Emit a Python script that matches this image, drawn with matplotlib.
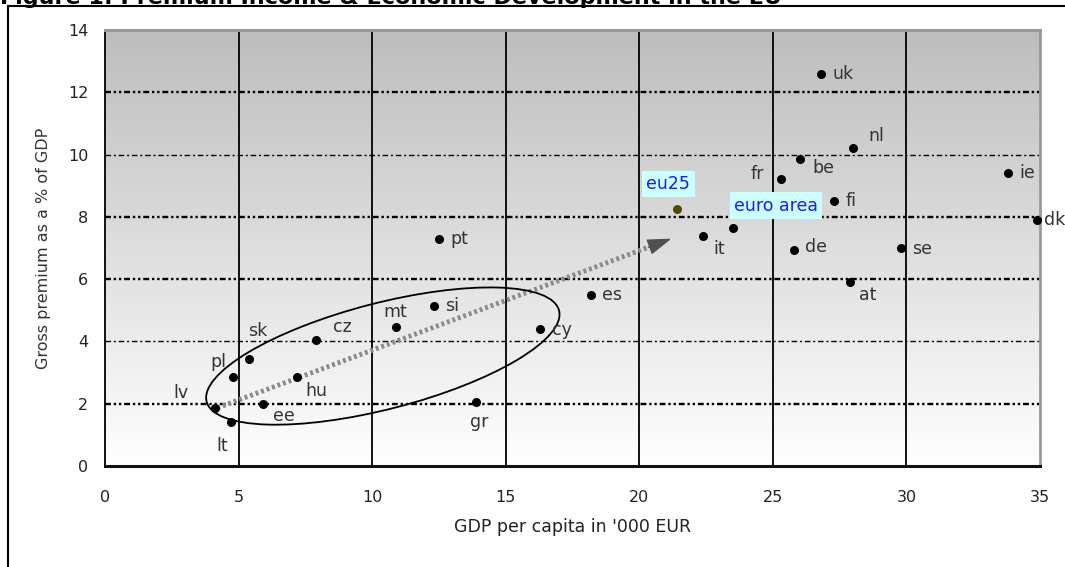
import numpy as np
import matplotlib
matplotlib.use("Agg")
import matplotlib.pyplot as plt
from matplotlib.patches import Ellipse
from matplotlib.transforms import ScaledTranslation
from matplotlib.lines import Line2D

# ---- data ----
countries = ["uk", "nl", "be", "fr", "fi", "ie", "dk", "it", "de", "se", "at", "es",
             "pt", "si", "mt", "cz", "sk", "pl", "hu", "ee", "lv", "lt", "gr", "cy"]
gdp_pc = [26.8, 28.0, 26.0, 25.3, 27.3, 33.8, 34.9, 22.4, 25.8, 29.8, 27.9, 18.2,
          12.5, 12.3, 10.9, 7.9, 5.4, 4.8, 7.2, 5.9, 4.1, 4.7, 13.9, 16.3]
premium = [12.6, 10.2, 9.85, 9.2, 8.5, 9.4, 7.9, 7.4, 6.95, 7.0, 5.9, 5.5,
           7.3, 5.15, 4.45, 4.05, 3.45, 2.85, 2.85, 2.0, 1.85, 1.4, 2.05, 4.4]
# label offsets (points) and alignment
label_off = {
    "uk": (8, 0, "left"), "nl": (11, 9, "left"), "be": (9, -6, "left"),
    "fr": (-12, 4, "right"), "fi": (8, 0, "left"), "ie": (8, 0, "left"),
    "dk": (5, 0, "left"), "it": (7, -10, "left"), "de": (8, 2, "left"),
    "se": (8, -1, "left"), "at": (6, -9, "left"), "es": (8, 0, "left"),
    "pt": (8, 0, "left"), "si": (8, 0, "left"), "mt": (-1, 11, "center"),
    "cz": (19, 9, "center"), "sk": (6, 20, "center"), "pl": (-11, 11, "center"),
    "lv": (-24, 11, "center"), "hu": (14, -10, "center"), "ee": (15, -9, "center"),
    "lt": (-6, -17, "center"), "gr": (2, -14, "center"), "cy": (8, -1, "left"),
}
agg_names = ["eu25", "euro area"]
agg_gdp = [21.4, 23.5]
agg_premium = [8.25, 7.65]
agg_off = [(-6, 18), (31, 16)]
agg_colors = ["#4d4d00", "black"]

xticks = [0, 5, 10, 15, 20, 25, 30, 35]
yticks = [0, 2, 4, 6, 8, 10, 12, 14]

plt.rcParams['font.family'] = ['DejaVu Sans']

fig = plt.figure(figsize=(10.65, 5.67), dpi=100)
ax = fig.add_axes([105/1065, 1-466/567, (1040-105)/1065, (466-30)/567])
ax.set_xlim(0, 35)
ax.set_ylim(0, 14)

# gradient background
grad = np.linspace(0, 1, 256).reshape(-1, 1)
cmap = matplotlib.colors.LinearSegmentedColormap.from_list("g", ["#ffffff", "#bdbdbd"])
ax.imshow(grad, extent=[0, 35, 0, 14], origin="lower", aspect="auto", cmap=cmap,
          zorder=0, interpolation="bicubic")

# grid lines
for xv in xticks[1:-1]:
    ax.axvline(xv, color="black", lw=1.3, zorder=1)
for yv in yticks[1:-1]:
    thin = yv in (4, 10)
    ax.axhline(yv, color="black", lw=1.0 if thin else 1.7, zorder=1,
               dashes=(4, 2, 1.5, 2) if thin else (2.5, 1.2, 1, 1.2, 1, 1.2))

ax.set_xticks(xticks)
ax.set_yticks(yticks)
ax.tick_params(length=0, labelsize=11.5, colors="#222")
ax.tick_params(axis="x", pad=17)
ax.tick_params(axis="y", pad=12)
ax.set_xlabel("GDP per capita in '000 EUR", fontsize=12.5, color="#222", labelpad=10)
ax.set_ylabel("Gross premium as a % of GDP", fontsize=11.5, color="#333", labelpad=12)

ax.spines["left"].set_color("black"); ax.spines["left"].set_linewidth(1.3)
ax.spines["bottom"].set_color("#111"); ax.spines["bottom"].set_linewidth(2.2)
ax.spines["top"].set_color("#999"); ax.spines["top"].set_linewidth(2.2)
ax.spines["right"].set_color("#999"); ax.spines["right"].set_linewidth(2.0)

# points
ax.scatter(gdp_pc, premium, s=30, color="black", zorder=5, clip_on=False)
for n, xv, yv in zip(countries, gdp_pc, premium):
    dx, dy, ha = label_off[n]
    ax.annotate(n, (xv, yv), xytext=(dx, dy), textcoords="offset points",
                ha=ha, va="center", fontsize=12.5, color="#333", zorder=6,
                annotation_clip=False)

for n, xv, yv, (dx, dy), c in zip(agg_names, agg_gdp, agg_premium, agg_off, agg_colors):
    ax.scatter([xv], [yv], s=30, color=c, zorder=5)
    ax.annotate(n, (xv, yv), xytext=(dx, dy), textcoords="offset points",
                ha="center", va="center", fontsize=12.5, color="#1a1aff", zorder=7,
                bbox=dict(boxstyle="square,pad=0.25", fc="#ccffff", ec="none"))

# ellipse highlighting new member states
ell_center = (10.4, 3.53)
tr = fig.dpi_scale_trans + ScaledTranslation(ell_center[0], ell_center[1], ax.transData)
ax.add_patch(Ellipse((0, 0), width=3.64, height=1.06, angle=14.5, transform=tr,
                     fill=False, ec="black", lw=1.3, zorder=4))

# catching-up arrow
arr_start = (4.0, 1.8)
arr_tip = (21.2, 7.3)
base = (arr_tip[0] - 0.05 * (arr_tip[0] - arr_start[0]),
        arr_tip[1] - 0.05 * (arr_tip[1] - arr_start[1]))
ax.plot([arr_start[0], base[0]], [arr_start[1], base[1]], color="#8a8a8a", lw=3.5,
        ls=(0, (0.6, 0.6)), zorder=3, solid_capstyle="butt")
ax.annotate("", xy=arr_tip, xytext=base,
            arrowprops=dict(arrowstyle="-|>,head_length=1.5,head_width=0.5",
                            color="#505050", lw=1, shrinkA=0, shrinkB=0), zorder=3)

# figure frame and clipped title
fig.add_artist(Line2D([8/1065, 8/1065], [0, 1-6/567], color="black", lw=1.5))
fig.add_artist(Line2D([8/1065, 1], [1-6/567, 1-6/567], color="black", lw=1.5))
fig.text(0.0, 1-4/567, "Figure 1: Premium Income & Economic Development in the EU",
         fontsize=16, fontweight="bold", family=["DejaVu Sans"],
         ha="left", va="baseline")

fig.savefig("out.png", dpi=100)
